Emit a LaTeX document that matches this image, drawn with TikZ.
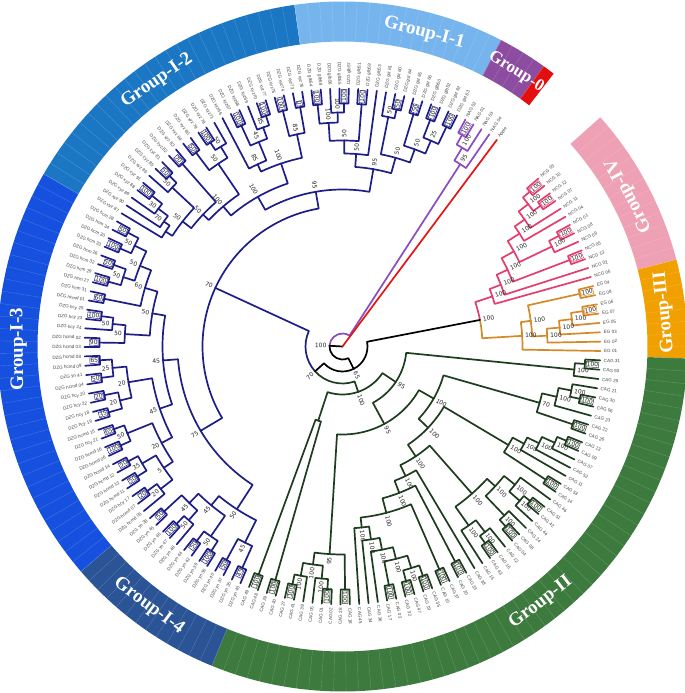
\documentclass[tikz,border=0pt]{standalone}
\usepackage{fontspec}
\newfontfamily\grpfont{Liberation Serif}
\newfontfamily\leaffont{Liberation Sans}
\newfontfamily\bsfont{DejaVu Sans}
\definecolor{navyL}{RGB}{30,30,135}
\definecolor{greenL}{RGB}{30,60,30}
\definecolor{pinkL}{RGB}{226,62,110}
\definecolor{orangeL}{RGB}{212,138,40}
\definecolor{purpleL}{RGB}{140,75,190}
\definecolor{redL}{RGB}{226,22,22}
\definecolor{rI1}{RGB}{118,180,238}
\definecolor{rI2}{RGB}{27,119,196}
\definecolor{rI3}{RGB}{22,80,222}
\definecolor{rI4}{RGB}{42,84,150}
\definecolor{rII}{RGB}{60,122,62}
\definecolor{rIII}{RGB}{240,160,0}
\definecolor{rIV}{RGB}{238,160,180}
\definecolor{rZero}{RGB}{140,76,160}
\definecolor{rRed}{RGB}{228,14,14}
\definecolor{leafgray}{RGB}{70,70,70}
\definecolor{bsgray}{RGB}{40,40,40}
\def\aZ{40.6}
\def\dA{2.08}
\def\tcol{black}
\tikzset{
  br/.style={line width=1.7bp,line join=round,line cap=round},
  leaflab/.style={font=\leaffont\fontsize{4.6}{5}\selectfont,text=leafgray,inner sep=0pt},
  blab/.style={font=\bsfont\fontsize{6}{7}\selectfont,text=bsgray,inner sep=0.4bp},
  bbox/.style={blab,draw=\tcol,fill=white,line width=0.45bp,inner sep=0.5bp},
  grp/.style={font=\grpfont\bfseries\fontsize{19}{19}\selectfont,text=white,inner sep=0pt}
}
\newcommand\Seg[3]{\fill[#3] (#1:305bp) arc[start angle=#1,end angle=#2,radius=305bp] -- (#2:345bp) arc[start angle=#2,end angle=#1,radius=345bp] -- cycle;}
\newcommand\TLab[5]{%
  \pgfmathsetmacro\labR{#2+#5}%
  \pgfmathsetmacro\csv{cos(#1)}%
  \ifdim\csv pt<0pt
    \pgfmathsetmacro\rotv{#1+180}%
    \node[#4,rotate=\rotv,anchor=east] at (#1:\labR bp) {#3};%
  \else
    \node[#4,rotate=#1,anchor=west] at (#1:\labR bp) {#3};%
  \fi}
\newcommand\TLeaf[3]{%
  \expandafter\xdef\csname PP#1\endcsname{#2}%
  \expandafter\xdef\csname RR#1\endcsname{258}%
  \expandafter\xdef\csname CC#1\endcsname{\tcol}%
  \pgfmathsetmacro\lA{\aZ-\dA*#2}%
  \pgfmathsetmacro\csv{cos(\lA)}%
  \ifdim\csv pt<0pt
    \pgfmathsetmacro\lR{\lA+180}%
    \node[leaflab,rotate=\lR,anchor=east] at (\lA:261.5bp) {#3};%
  \else
    \node[leaflab,rotate=\lA,anchor=west] at (\lA:261.5bp) {#3};%
  \fi}
\newcommand\TNodeX[7]{%
  \edef\pA{\csname PP#2\endcsname}\edef\pB{\csname PP#3\endcsname}%
  \edef\rA{\csname RR#2\endcsname}\edef\rB{\csname RR#3\endcsname}%
  \edef\cA{\csname CC#2\endcsname}\edef\cB{\csname CC#3\endcsname}%
  \pgfmathsetmacro\pM{(\pA+\pB)/2}%
  \pgfmathsetmacro\aM{\aZ-\dA*\pM}%
  \pgfmathsetmacro\aA{\aZ-\dA*\pA}%
  \pgfmathsetmacro\aB{\aZ-\dA*\pB}%
  \draw[br,draw=\cA] (\aM:#4bp) arc[start angle=\aM,end angle=\aA,radius=#4bp] -- (\aA:\rA bp);%
  \draw[br,draw=\cB] (\aM:#4bp) arc[start angle=\aM,end angle=\aB,radius=#4bp] -- (\aB:\rB bp);%
  \expandafter\xdef\csname PP#1\endcsname{\pM}%
  \expandafter\xdef\csname RR#1\endcsname{#4}%
  \expandafter\xdef\csname CC#1\endcsname{\tcol}%
  \def\tmpl{#5}\ifx\tmpl\empty\else\TLab{\aM}{#4}{#5}{#6}{#7}\fi}
\newcommand\TNode[5]{\TNodeX{#1}{#2}{#3}{#4}{#5}{blab}{2.5}}
\newcommand\TBox[5]{\TNodeX{#1}{#2}{#3}{243}{#5}{bbox}{1.2}}
\begin{document}
\begin{tikzpicture}
\useasboundingbox (-342.5bp,-346.5bp) rectangle (342.5bp,346.5bp);
\fill[white] (-342.5bp,-346.5bp) rectangle (342.5bp,346.5bp);
% ---- outer ring
\Seg{41.64}{14.6}{rIV}
\Seg{14.6}{-1.98}{rIII}
\Seg{-1.98}{-112.22}{rII}
\Seg{-112.22}{-139.26}{rI4}
\Seg{-139.26}{-209.98}{rI3}
\Seg{-209.98}{-261.98}{rI2}
\Seg{-261.98}{-297.34}{rI1}
\Seg{-297.34}{-305.66}{rZero}
\Seg{-305.66}{-307.74}{rRed}
\foreach \i in {0,...,168}{\pgfmathsetmacro\sa{\aZ-\dA*(\i-0.5)}
  \draw[white,opacity=0.22,line width=0.35bp] (\sa:305bp) -- (\sa:345bp);}
\node[grp,rotate=-14.6] (gI1) at (75.4:324bp) {Group-I-1};
\node[grp,rotate=-32.3,font=\grpfont\bfseries\fontsize{17}{17}\selectfont] (g0) at (57.7:325bp) {Group-0};
\node[grp,rotate=34.9] (gI2) at (124.9:324bp) {Group-I-2};
\node[grp,rotate=90.5] (gI3) at (180.5:324bp) {Group-I-3};
\node[grp,rotate=323.3] (gI4) at (233.3:324bp) {Group-I-4};
\node[grp,rotate=37.7] (gII) at (-52.3:324bp) {Group-II};
\node[grp,rotate=96] (gIII) at (6:324bp) {Group-III};
\node[grp,rotate=117.8] (gIV) at (27.8:324bp) {Group-IV};
% ---- leaves
\def\tcol{pinkL}
\foreach \ii/\nn in {0/NCG 03,1/NCG 10,2/NCG 12,3/NCG 07,4/NCG 11,5/NCG 04,6/NCG 01,7/NCG 08,8/NCG 09,9/NCG 05,10/NCG 13,11/NCG 02,12/NCG 06}{\TLeaf{L\ii}{\ii}{\nn}}
\def\tcol{orangeL}
\foreach \ii/\nn in {13/EG 04,14/EG 08,15/EG 06,16/EG 07,17/EG 05,18/EG 03,19/EG 02,20/EG 01}{\TLeaf{L\ii}{\ii}{\nn}}
\def\tcol{greenL}
\foreach \ii/\nn in {21/CAG 31,22/CAG 50,23/CAG 25,24/CAG 21,25/CAG 30,26/CAG 06,27/CAG 23,28/CAG 22,29/CAG 26,30/CAG 13,31/CAG 09,32/CAG 07,33/CAG 52,34/CAG 11,35/CAG 53,36/CAG 14,37/CAG 46,38/CAG 51,39/CAG 42,40/CAG 44,41/CAG 24,42/CAG 08,43/CAG 04,44/CAG 12,45/CAG 16,46/CAG 43,47/CAG 15,48/CAG 38,49/CAG 33,50/CAG 20,51/CAG 37,52/CAG 10,53/CAG 35,54/CAG 19,55/CAG 47,56/CAG 32,57/CAG 03,58/CAG 17,59/CAG 36,60/CAG 34,61/CAG 45,62/CAG 18,63/CAG 28,64/CAG 02,65/CAG 01,66/CAG 05,67/CAG 39,68/CAG 41,69/CAG 27,70/CAG 40,71/CAG 29,72/CAG 48,73/CAG 49}{\TLeaf{L\ii}{\ii}{\nn}}
\def\tcol{navyL}
\foreach \ii/\nn in {74/DZG yn 43,75/DZG yn 35,76/DZG yn 37,77/DZG yn 40,78/DZG yn 36,79/DZG yn 39,80/DZG yn 42,81/DZG yn 44,82/DZG yn 48,83/DZG yn 47,84/DZG yn 46,85/DZG yn 45,86/DZG yn 38,87/DZG hcmd 05,88/DZG hcmd 07,89/DZG hcy 17,90/DZG hcmd 11,91/DZG hcmd 13,92/DZG hcmd 12,93/DZG hcmd 14,94/DZG hcmd 06,95/DZG hcmd 16,96/DZG hcy 21,97/DZG hcmd 15,98/DZG hcy 19,99/DZG hcy 18,100/DZG hcy 22,101/DZG hcy 20,102/DZG hcmd 04,103/DZG yn 41,104/DZG hcmd 09,105/DZG hcmd 08,106/DZG hcmd 03,107/DZG hcmd 02,108/DZG hcy 24,109/DZG hcy 23,110/DZG hcy 25,111/DZG hcmd 01,112/DZG hcm 31,113/DZG hcm 27,114/DZG hcm 29,115/DZG hcm 32,116/DZG hcm 26,117/DZG hcm 33,118/DZG hcm 30,119/DZG hcm 34,120/DZG hcm 28}{\TLeaf{L\ii}{\ii}{\nn}}
\foreach \ii/\nn in {121/DZG xyz 87,122/DZG xyz 90,123/DZG xyz 89,124/DZG xyz 88,125/DZG xyz 91,126/DZG xyz 86,127/DZG xyz 85,128/DZG xyz 81,129/DZG xyz 82,130/DZG xyz 83,131/DZG xyz 84,132/DZG xyz 80,133/DZG xyz 79,134/DZG xyz 78,135/DZG xyz71,136/DZG xyz66,137/DZG xyz67,138/DZG xyz68,139/DZG xyz69,140/DZG xyz70,141/DZG xyz77,142/DZG xyz75,143/DZG xyz74,144/DZG xyz73,145/DZG xyz76,146/DZG glb54,147/DZG glb58,148/DZG glb56,149/DZG glb55,150/DZG glb57,151/DZG glb51,152/DZG glb59,153/DZG glb53,154/DZG gst 61,155/DZG gst 60,156/DZG gst 64,157/DZG gst 65,158/DZG gst 66,159/DZG glb50,160/DZG glb52,161/DZG gst 62,162/DZG gst 63}{\TLeaf{L\ii}{\ii}{\nn}}
\def\tcol{purpleL}
\foreach \ii/\nn in {163/NAG 02,164/NAG 01,165/NAG 03,166/NAG 04}{\TLeaf{L\ii}{\ii}{\nn}}
\def\tcol{redL}
\TLeaf{L167}{167}{Apple}
% ---- Group IV
\def\tcol{pinkL}
\TBox{c0}{L0}{L1}{245}{100}
\TBox{c2}{L2}{L3}{245}{100}
\TNode{n4a}{c0}{c2}{234}{100}
\TNode{n4b}{n4a}{L4}{222}{100}
\TNode{n4c}{n4b}{L5}{210}{100}
\TBox{c6}{L6}{L7}{245}{100}
\TNode{n4d}{c6}{L8}{232}{100}
\TNode{n4e}{n4c}{n4d}{196}{100}
\TBox{c9}{L9}{L10}{245}{100}
\TNode{n4f}{n4e}{c9}{182}{100}
\TNode{n4g}{n4f}{L11}{170}{100}
\TNode{IV}{n4g}{L12}{158}{100}
% ---- Group III
\def\tcol{orangeL}
\TBox{c13}{L13}{L14}{243}{100}
\TBox{c15}{L15}{L16}{243}{100}
\TNode{n3a}{c15}{L17}{231}{100}
\TNode{n3b}{n3a}{L18}{218}{100}
\TNode{n3c}{n3b}{L19}{205}{100}
\TNode{n3d}{c13}{n3c}{190}{100}
\TNode{III}{n3d}{L20}{180}{100}
\def\tcol{black}
\TNode{IVIII}{IV}{III}{140}{100}
% ---- Group II
\def\tcol{greenL}
\TBox{c21}{L21}{L22}{245}{100}
\TNode{A1}{c21}{L23}{233}{100}
\TBox{c25}{L25}{L26}{245}{100}
\TNode{a2a}{L24}{c25}{233}{100}
\TNode{a2b}{a2a}{L27}{220}{100}
\TBox{c28}{L28}{L29}{245}{100}
\TNode{A2}{a2b}{c28}{205}{70}
\TBox{c30}{L30}{L31}{245}{100}
\TNode{a3a}{c30}{L32}{233}{100}
\TNode{a3b}{a3a}{L33}{219}{100}
\TNode{a3c}{a3b}{L34}{206}{100}
\TBox{c35}{L35}{L36}{245}{100}
\TNode{A3}{a3c}{c35}{193}{100}
\TBox{c38}{L38}{L39}{245}{100}
\TNode{v1}{c38}{L40}{235}{100}
\TNode{v2}{L37}{v1}{221}{100}
\TBox{c42}{L42}{L43}{245}{100}
\TNode{v3}{L41}{c42}{234}{100}
\TNode{v4}{v2}{v3}{207}{100}
\TBox{c45}{L45}{L46}{245}{100}
\TNode{v5}{L44}{c45}{234}{100}
\TNode{v6}{v5}{L47}{219}{100}
\TNode{V}{v4}{v6}{196}{100}
\TBox{c53}{L53}{L54}{245}{100}
\TBox{c55}{L55}{L56}{245}{100}
\TNode{X}{c53}{c55}{232}{100}
\TBox{c57}{L57}{L58}{245}{100}
\TNode{N4}{c57}{X}{219}{100}
\TNode{N3}{L59}{N4}{207}{100}
\TNode{N2}{L60}{N3}{195}{100}
\TNode{N1}{L61}{N2}{182}{100}
\TBox{c51}{L51}{L52}{245}{100}
\TNode{M1}{N1}{c51}{172}{100}
\TBox{c49}{L49}{L50}{245}{100}
\TNode{M2}{M1}{c49}{157}{100}
\TNode{M3}{M2}{L48}{144}{100}
\TNode{M4}{M3}{V}{132}{100}
\TNode{AM}{A3}{M4}{118}{100}
\TNode{B2}{A2}{AM}{105}{100}
\TBox{c62}{L62}{L63}{245}{100}
\TBox{c64}{L64}{L65}{245}{100}
\TNode{s1}{c64}{L66}{233}{100}
\TBox{c68}{L68}{L69}{245}{100}
\TNode{s2}{L67}{c68}{233}{100}
\TNode{s3}{s1}{s2}{220}{100}
\TNode{S}{c62}{s3}{208}{95}
\TNode{J}{B2}{S}{88}{95}
\TNode{P}{A1}{J}{64}{95}
\TBox{c70}{L70}{L71}{245}{100}
\TBox{c72}{L72}{L73}{245}{100}
\TNode{Q}{c70}{c72}{78}{}
\TNode{G2}{P}{Q}{48}{100}
% ---- Group I-4
\def\tcol{navyL}
\TBox{c74}{L74}{L75}{245}{45}
\TBox{c76}{L76}{L77}{245}{50}
\TNode{i1}{c74}{c76}{219}{45}
\TBox{c78}{L78}{L79}{245}{100}
\TBox{c80}{L80}{L81}{245}{50}
\TNode{i2}{c78}{c80}{231}{50}
\TBox{c83}{L83}{L84}{245}{100}
\TNode{i3}{L82}{c83}{232}{50}
\TBox{c85}{L85}{L86}{245}{50}
\TNode{i4}{i3}{c85}{219}{45}
\TNode{i5}{i2}{i4}{206}{45}
\TNode{I4}{i1}{i5}{194}{50}
% ---- Group I-3
\TBox{c88}{L88}{L89}{245}{20}
\TNode{no}{L87}{c88}{231}{20}
\TBox{c90}{L90}{L91}{245}{50}
\TBox{c92}{L92}{L93}{245}{50}
\TNode{nn}{c90}{c92}{232}{35}
\TNode{np}{no}{nn}{216}{5}
\TBox{c94}{L94}{L95}{245}{100}
\TBox{c96}{L96}{L97}{245}{65}
\TNode{nm}{c94}{c96}{232}{50}
\TNode{nq}{np}{nm}{205}{20}
\TBox{c98}{L98}{L99}{245}{35}
\TBox{c100}{L100}{L101}{245}{20}
\TNode{ny1}{c98}{c100}{229}{20}
\TBox{c102}{L102}{L103}{245}{50}
\TBox{c104}{L104}{L105}{245}{65}
\TNode{ny2}{c102}{c104}{231}{25}
\TNode{ny}{ny1}{ny2}{217}{20}
\TNode{nz}{nq}{ny}{193}{45}
\TBox{c106}{L106}{L107}{245}{90}
\TBox{c109}{L109}{L110}{245}{100}
\TNode{na3}{L108}{c109}{231}{50}
\TNode{nb3}{c106}{na3}{218}{50}
\TBox{c111}{L111}{L112}{245}{60}
\TBox{c113}{L113}{L114}{245}{100}
\TBox{c115}{L115}{L116}{245}{50}
\TNode{nc3}{c113}{c115}{230}{50}
\TBox{c117}{L117}{L118}{245}{100}
\TBox{c119}{L119}{L120}{245}{50}
\TNode{nd3}{c117}{c119}{231}{50}
\TNode{ne3}{nc3}{nd3}{218}{50}
\TNode{nf3}{c111}{ne3}{206}{60}
\TNode{ng3}{nb3}{nf3}{193}{50}
\TNode{I3}{nz}{ng3}{180}{45}
\TNode{I34}{I4}{I3}{165}{75}
% ---- Group I-2
\TBox{c124}{L124}{L125}{245}{100}
\TNode{na}{L123}{c124}{230}{30}
\TNode{nb}{L122}{na}{218}{70}
\TNode{nb0}{L121}{nb}{211}{}
\TBox{c127}{L127}{L128}{245}{50}
\TNode{nc}{L126}{c127}{233}{50}
\TNode{nf}{nb0}{nc}{203}{50}
\TBox{c129}{L129}{L130}{245}{70}
\TNode{nh}{nf}{c129}{192}{50}
\TBox{c131}{L131}{L132}{245}{50}
\TBox{c133}{L133}{L134}{245}{100}
\TNode{nw}{c133}{L135}{234}{50}
\TNode{nd}{c131}{nw}{221}{50}
\TNode{ni}{nh}{nd}{184}{100}
\TBox{c137}{L137}{L138}{245}{100}
\TBox{c140}{L140}{L141}{245}{100}
\TNode{ns}{L139}{c140}{233}{85}
\TNode{nt}{c137}{ns}{221}{45}
\TNode{nu}{L136}{nt}{201}{85}
\TBox{c142}{L142}{L143}{245}{100}
\TBox{c144}{L144}{L145}{245}{0}
\TNode{nr}{c142}{c144}{217}{85}
\TNode{nv}{nu}{nr}{193}{100}
\TNode{I2}{ni}{nv}{172}{100}
% ---- Group I-1
\TBox{c146}{L146}{L147}{245}{100}
\TBox{c149}{L149}{L150}{245}{100}
\TNode{m1}{L148}{c149}{234}{100}
\TNode{m2}{c146}{m1}{224}{100}
\TBox{c151}{L151}{L152}{245}{100}
\TNode{m3}{m2}{c151}{206}{50}
\TNode{m4}{m3}{L153}{193}{50}
\TBox{c155}{L155}{L156}{245}{50}
\TNode{m5}{L154}{c155}{234}{50}
\TBox{c157}{L157}{L158}{245}{50}
\TBox{c159}{L159}{L160}{245}{100}
\TBox{c161}{L161}{L162}{245}{100}
\TNode{m6}{c159}{c161}{224}{25}
\TNode{m7}{c157}{m6}{210}{50}
\TNode{m8}{m5}{m7}{196}{50}
\TNode{I1}{m4}{m8}{180}{95}
\TNode{I12}{I2}{I1}{157}{95}
\TNode{GI}{I34}{I12}{140}{70}
% ---- Group 0
\def\tcol{purpleL}
\TBox{c163}{L163}{L164}{245}{100}
\TNode{g1}{c163}{L165}{232}{100}
\TNode{NAG}{g1}{L166}{217}{95}
% ---- backbone
\def\tcol{black}
\TNode{C}{GI}{G2}{37}{70}
\TNode{B}{C}{IVIII}{25}{65}
\TNode{A}{NAG}{B}{13}{100}
\coordinate (root) at (0,0);
\edef\pRA{\csname PPA\endcsname}
\pgfmathsetmacro\aRA{\aZ-\dA*\pRA}
\pgfmathsetmacro\aApple{\aZ-\dA*167}
\coordinate (Aend) at (\aRA:13bp);
\coordinate (Apptip) at (\aApple:258bp);
\draw[br,black] (root) -- (Aend);
\draw[br,redL] (root) -- (Apptip);
\end{tikzpicture}
\end{document}
